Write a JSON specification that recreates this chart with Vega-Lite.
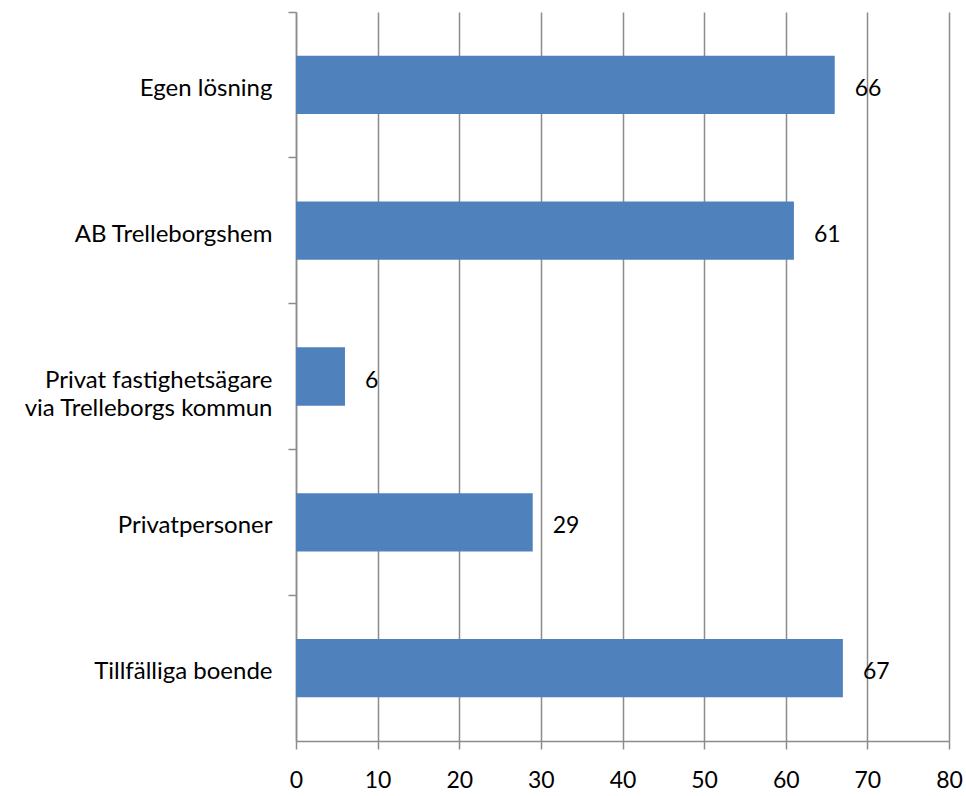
{
  "$schema": "https://vega.github.io/schema/vega-lite/v6.json",
  "autosize": "none",
  "width": 653,
  "height": 729,
  "padding": {"left": 296, "top": 12, "right": 17, "bottom": 55},
  "background": "white",
  "config": {"view": {"stroke": null}, "font": "Lato"},
  "data": {"values": [
    {"kategori": "Egen lösning", "antal": 66},
    {"kategori": "AB Trelleborgshem", "antal": 61},
    {"kategori": "Privat fastighetsägare|via Trelleborgs kommun", "antal": 6},
    {"kategori": "Privatpersoner", "antal": 29},
    {"kategori": "Tillfälliga boende", "antal": 67}
  ]},
  "encoding": {
    "y": {"field": "kategori", "type": "nominal", "sort": null,
      "scale": {"paddingInner": 0, "paddingOuter": 0},
      "axis": {"title": null, "bandPosition": 0, "labelExpr": "split(datum.label, '|')",
        "labelFontSize": 24, "labelColor": "#000", "labelPadding": 16, "labelFont": "Lato",
        "labelLineHeight": 28, "labelLimit": 400, "labelOffset": 4,
        "domainColor": "#8c8c8c", "domainWidth": 1.5, "tickColor": "#8c8c8c", "tickWidth": 1.5, "tickSize": 8,
        "grid": false, "labelBound": false}},
    "x": {"field": "antal", "type": "quantitative",
      "scale": {"domain": [0, 80], "nice": false},
      "axis": {"title": null, "values": [0,10,20,30,40,50,60,70,80], "labelFontSize": 23, "labelColor": "#000",
        "labelPadding": 20, "labelFont": "Lato",
        "domainColor": "#8c8c8c", "domainWidth": 1.5, "tickColor": "#8c8c8c", "tickWidth": 1.5, "tickSize": 8,
        "grid": true, "gridColor": "#8c8c8c", "gridWidth": 1.5, "labelFlush": false}}
  },
  "layer": [
    {"mark": {"type": "bar", "color": "#4F81BD", "height": {"band": 0.4}}},
    {"mark": {"type": "text", "align": "left", "dx": 20, "dy": 4, "fontSize": 23, "color": "#000", "font": "Lato"},
     "encoding": {"text": {"field": "antal", "type": "quantitative"}}}
  ]
}
